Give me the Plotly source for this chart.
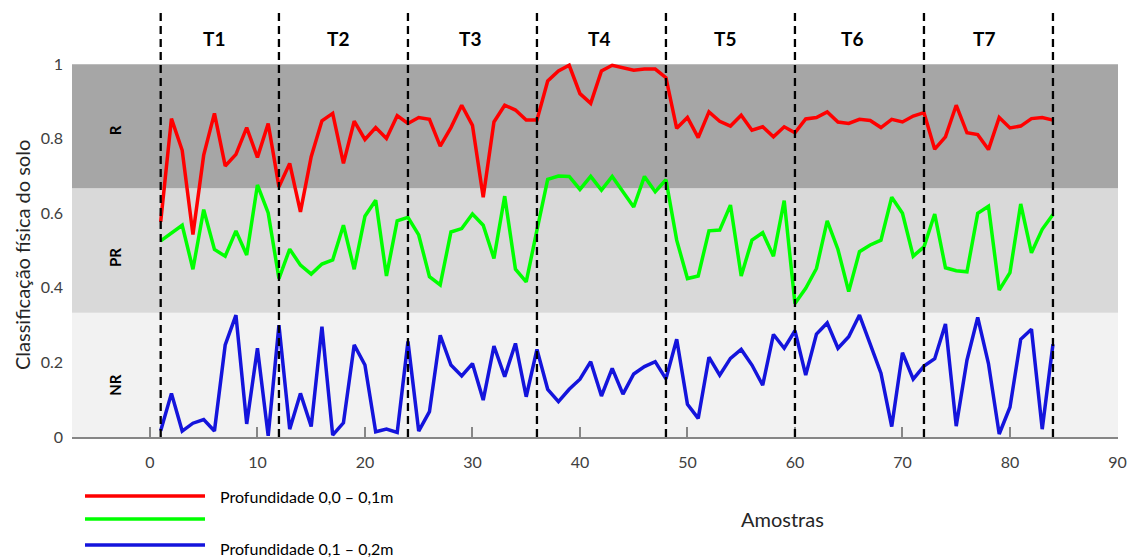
import plotly.graph_objects as go

amostras = list(range(1, 85))

prof_0_01 = [0.577, 0.854, 0.769, 0.543, 0.756, 0.868, 0.727, 0.758, 0.830, 0.750,
             0.841, 0.671, 0.734, 0.604, 0.752, 0.848, 0.868, 0.734, 0.847, 0.798,
             0.830, 0.801, 0.862, 0.841, 0.857, 0.852, 0.780, 0.830, 0.890, 0.836,
             0.643, 0.845, 0.890, 0.877, 0.850, 0.850, 0.955, 0.982, 0.997, 0.921,
             0.895, 0.982, 0.997, 0.991, 0.984, 0.987, 0.987, 0.964, 0.828, 0.857,
             0.803, 0.872, 0.847, 0.834, 0.863, 0.823, 0.832, 0.805, 0.832, 0.816,
             0.853, 0.857, 0.872, 0.845, 0.841, 0.852, 0.849, 0.830, 0.852, 0.845,
             0.861, 0.870, 0.772, 0.805, 0.890, 0.816, 0.811, 0.771, 0.857, 0.829,
             0.834, 0.854, 0.857, 0.850]

prof_green = [0.526, 0.548, 0.568, 0.450, 0.610, 0.503, 0.485, 0.553, 0.488, 0.676,
              0.601, 0.425, 0.504, 0.461, 0.437, 0.464, 0.475, 0.568, 0.450, 0.592,
              0.635, 0.432, 0.580, 0.589, 0.542, 0.430, 0.408, 0.550, 0.559, 0.598,
              0.568, 0.479, 0.646, 0.450, 0.416, 0.555, 0.691, 0.700, 0.699, 0.664,
              0.699, 0.662, 0.699, 0.658, 0.617, 0.699, 0.658, 0.690, 0.528, 0.425,
              0.432, 0.553, 0.555, 0.622, 0.432, 0.528, 0.548, 0.485, 0.634, 0.358,
              0.399, 0.452, 0.580, 0.503, 0.390, 0.497, 0.515, 0.528, 0.643, 0.600,
              0.485, 0.510, 0.598, 0.454, 0.446, 0.443, 0.600, 0.619, 0.394, 0.441,
              0.625, 0.494, 0.557, 0.597]

prof_01_02 = [0.017, 0.117, 0.016, 0.037, 0.047, 0.016, 0.247, 0.327, 0.035, 0.238,
              0.003, 0.300, 0.021, 0.117, 0.028, 0.296, 0.005, 0.038, 0.247, 0.193,
              0.014, 0.021, 0.012, 0.256, 0.016, 0.068, 0.273, 0.193, 0.164, 0.197,
              0.099, 0.244, 0.162, 0.251, 0.108, 0.235, 0.128, 0.095, 0.128, 0.155,
              0.202, 0.110, 0.184, 0.115, 0.169, 0.189, 0.202, 0.156, 0.262, 0.088,
              0.050, 0.214, 0.166, 0.211, 0.235, 0.193, 0.139, 0.275, 0.238, 0.285,
              0.166, 0.276, 0.306, 0.238, 0.269, 0.327, 0.249, 0.171, 0.028, 0.226,
              0.155, 0.190, 0.210, 0.303, 0.029, 0.206, 0.321, 0.197, 0.008, 0.080,
              0.262, 0.289, 0.021, 0.249]

limites = [1, 12, 24, 36, 48, 60, 72, 84]
tratamentos = ["T1", "T2", "T3", "T4", "T5", "T6", "T7"]
tratamentos_x = [6.0, 17.5, 29.8, 41.8, 53.5, 65.3, 77.6]
classes = ["NR", "PR", "R"]
classes_lim = [0.0, 0.333, 0.667, 1.0]
classes_cores = ["#f2f2f2", "#d9d9d9", "#a6a6a6"]
x_ticks = [0, 10, 20, 30, 40, 50, 60, 70, 80, 90]
y_ticks = [0, 0.2, 0.4, 0.6, 0.8, 1]
y_ticktext = ["0", "0.2", "0.4", "0.6", "0.8", "1"]

FONT = "Lato"
W, H = 1127, 560
L, R, T, B = 72, 9, 12, 123
PW, PH = W - L - R, H - T - B


def px(xp):
    return (xp - L) / PW


def py(yp):
    return (H - B - yp) / PH


fig = go.Figure()
fig.add_trace(go.Scatter(x=amostras, y=prof_0_01, mode="lines",
                         line=dict(color="#ff0000", width=3.5), showlegend=False))
fig.add_trace(go.Scatter(x=amostras, y=prof_green, mode="lines",
                         line=dict(color="#00ff00", width=3.5), showlegend=False))
fig.add_trace(go.Scatter(x=amostras, y=prof_01_02, mode="lines",
                         line=dict(color="#1414dc", width=3.5), showlegend=False))

shapes = []
for i in range(3):
    shapes.append(dict(type="rect", xref="paper", yref="y", x0=0, x1=1,
                       y0=classes_lim[i], y1=classes_lim[i + 1],
                       fillcolor=classes_cores[i], line=dict(width=0), layer="below"))
for xv in limites:
    shapes.append(dict(type="line", xref="x", yref="paper", x0=xv, x1=xv, y0=0, y1=1,
                       line=dict(color="black", width=2.3, dash="8px,5px")))

# legend decorations
leg_cols = ["#ff0000", "#00ff00", "#1414dc"]
leg_y = [496, 519, 545]
for c, yy in zip(leg_cols, leg_y):
    shapes.append(dict(type="line", xref="paper", yref="paper", x0=px(85), x1=px(205),
                       y0=py(yy), y1=py(yy), line=dict(color=c, width=3.5)))

annotations = []
for t, xv in zip(tratamentos, tratamentos_x):
    annotations.append(dict(x=xv, y=1.07, xref="x", yref="y", text="<b>%s</b>" % t,
                            showarrow=False, font=dict(family=FONT, size=19, color="black")))
class_y = [0.14, 0.48, 0.823]
for c, yv in zip(classes, class_y):
    annotations.append(dict(x=-3.25, y=yv, xref="x", yref="y", text="<b>%s</b>" % c,
                            textangle=-90, showarrow=False,
                            font=dict(family=FONT, size=15, color="black")))

annotations.append(dict(x=px(218), y=py(496), xref="paper", yref="paper",
                        text="Profundidade 0,0 – 0,1m", xanchor="left", yanchor="middle",
                        showarrow=False, font=dict(family=FONT, size=16, color="black")))
annotations.append(dict(x=px(218), y=py(548), xref="paper", yref="paper",
                        text="Profundidade 0,1 – 0,2m", xanchor="left", yanchor="middle",
                        showarrow=False, font=dict(family=FONT, size=16, color="black")))
annotations.append(dict(x=px(782), y=py(519), xref="paper", yref="paper",
                        text="Amostras", xanchor="center", yanchor="middle",
                        showarrow=False, font=dict(family=FONT, size=20, color="#262626")))
annotations.append(dict(x=px(22), y=py(255), xref="paper", yref="paper",
                        text="Classificação física do solo", textangle=-90,
                        xanchor="center", yanchor="middle",
                        showarrow=False, font=dict(family=FONT, size=20, color="#262626")))

fig.update_layout(
    width=W, height=H,
    margin=dict(l=L, r=R, t=T, b=B, autoexpand=False),
    paper_bgcolor="white", plot_bgcolor="white",
    shapes=shapes, annotations=annotations,
    showlegend=False,
    xaxis=dict(range=[-7.25, 90.05], tickvals=x_ticks, showgrid=False, zeroline=False,
               automargin=False,
               showline=True, linecolor="#868686", linewidth=1.5,
               ticks="inside", ticklen=10, tickcolor="#868686", tickwidth=1.5,
               ticklabelstandoff=10,
               tickfont=dict(family=FONT, size=16, color="#404040")),
    yaxis=dict(range=[0, 1.14], tickvals=y_ticks, ticktext=y_ticktext, showgrid=False,
               zeroline=False, showline=False, ticks="", ticklabelstandoff=8,
               automargin=False,
               tickfont=dict(family=FONT, size=16, color="#404040")),
)

fig.write_html("out.html")
